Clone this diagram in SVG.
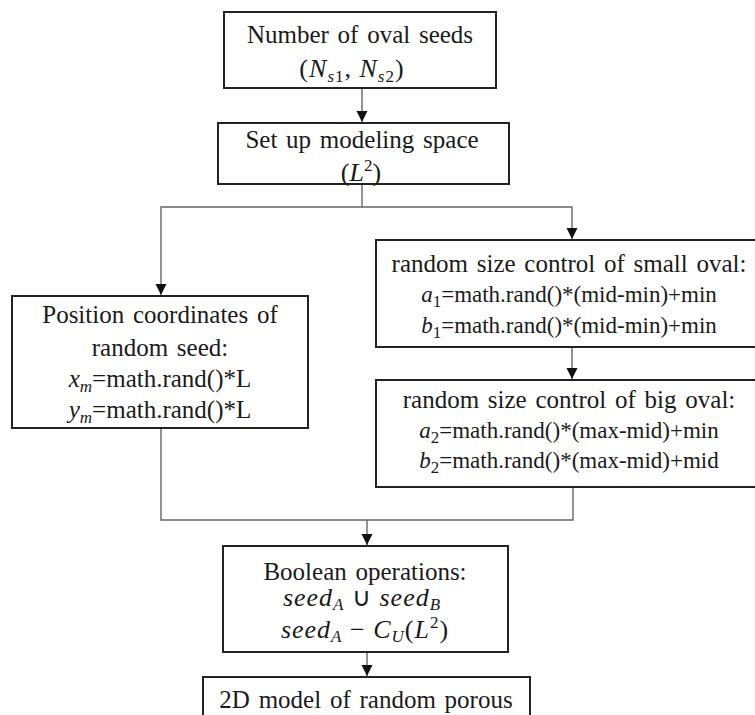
<svg xmlns="http://www.w3.org/2000/svg" width="755" height="715" viewBox="0 0 755 715">
<style>
.box{fill:#fff;stroke:#222;stroke-width:2}
.conn{fill:none;stroke:#666;stroke-width:1.4}
text{font-family:"Liberation Serif","Times New Roman",serif;font-size:25px;word-spacing:2.5px;fill:#1a1a1a;text-anchor:middle}
.i{font-style:italic}
.s{font-size:17px}
.m23{font-size:23px;word-spacing:0}
.m28{font-size:26px;letter-spacing:1px;word-spacing:0}
.m27{font-size:26px}
</style>
<defs>
<marker id="a" markerUnits="userSpaceOnUse" markerWidth="12" markerHeight="12" viewBox="-12 -6 12 12" refX="0" refY="0" orient="auto">
<path d="M-11,-5.5 L0,0 L-11,5.5 Z" fill="#111"/>
</marker>
</defs>
<g id="connectors">
<path class="conn" d="M362,88 V122" marker-end="url(#a)"/>
<path class="conn" d="M362,184 V207 H161 V295" marker-end="url(#a)"/>
<path class="conn" d="M362,207 H572 V239" marker-end="url(#a)"/>
<path class="conn" d="M572,347 V379" marker-end="url(#a)"/>
<path class="conn" d="M161,428 V520 H573 V487"/>
<path class="conn" d="M367,520 V545" marker-end="url(#a)"/>
<path class="conn" d="M367,652 V676" marker-end="url(#a)"/>
</g>
<g id="n1">
<rect class="box" x="224" y="12" width="272" height="76"/>
<text x="360" y="43">Number of oval seeds</text>
<text class="m28" x="352" y="77">(<tspan class="i">N</tspan><tspan class="s i" dy="5">s</tspan><tspan class="s">1</tspan><tspan dy="-5">, </tspan><tspan class="i">N</tspan><tspan class="s i" dy="5">s</tspan><tspan class="s">2</tspan><tspan dy="-5">)</tspan></text>
</g>
<g id="n2">
<rect class="box" x="218" y="123" width="291" height="61"/>
<text x="362" y="148">Set up modeling space</text>
<text class="m27" x="361" y="181">(<tspan class="i">L</tspan><tspan class="s" dy="-10">2</tspan><tspan dy="10">)</tspan></text>
</g>
<g id="n3">
<rect class="box" x="12" y="296" width="296" height="132"/>
<text x="160" y="323">Position coordinates of</text>
<text x="160" y="356">random seed:</text>
<text x="160" y="387"><tspan class="i">x</tspan><tspan class="s i" dy="5">m</tspan><tspan dy="-5">=math.rand()*L</tspan></text>
<text x="160" y="418"><tspan class="i">y</tspan><tspan class="s i" dy="5">m</tspan><tspan dy="-5">=math.rand()*L</tspan></text>
</g>
<g id="n4">
<rect class="box" x="376" y="240" width="390" height="107"/>
<text x="569" y="272">random size control of small oval:</text>
<text class="m23" x="569" y="302"><tspan class="i">a</tspan><tspan class="s" dy="5">1</tspan><tspan dy="-5">=math.rand()*(mid-min)+min</tspan></text>
<text class="m23" x="569" y="333"><tspan class="i">b</tspan><tspan class="s" dy="5">1</tspan><tspan dy="-5">=math.rand()*(mid-min)+min</tspan></text>
</g>
<g id="n5">
<rect class="box" x="376" y="380" width="390" height="107"/>
<text x="569" y="408">random size control of big oval:</text>
<text class="m23" x="569" y="438"><tspan class="i">a</tspan><tspan class="s" dy="5">2</tspan><tspan dy="-5">=math.rand()*(max-mid)+min</tspan></text>
<text class="m23" x="569" y="468"><tspan class="i">b</tspan><tspan class="s" dy="5">2</tspan><tspan dy="-5">=math.rand()*(max-mid)+mid</tspan></text>
</g>
<g id="n6">
<rect class="box" x="223" y="546" width="285" height="106"/>
<text x="365" y="580">Boolean operations:</text>
<text class="m28" x="362" y="606"><tspan class="i">seed</tspan><tspan class="s i" dy="4">A</tspan><tspan dy="-4"> ∪ </tspan><tspan class="i">seed</tspan><tspan class="s i" dy="4">B</tspan></text>
<text class="m28" x="365" y="638"><tspan class="i">seed</tspan><tspan class="s i" dy="4">A</tspan><tspan dy="-4"> − </tspan><tspan class="i">C</tspan><tspan class="s i" dy="4">U</tspan><tspan dy="-4">(</tspan><tspan class="i">L</tspan><tspan class="s" dy="-10">2</tspan><tspan dy="10">)</tspan></text>
</g>
<g id="n7">
<rect class="box" x="203" y="677" width="327" height="60"/>
<text x="366" y="708">2D model of random porous</text>
</g>
</svg>
